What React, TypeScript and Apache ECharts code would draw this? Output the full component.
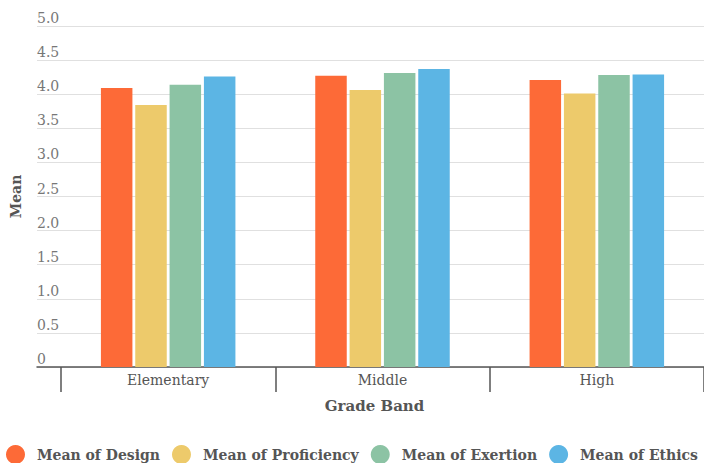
import React, { useEffect, useRef } from "react";
import * as echarts from "echarts";

const gradeBands = ["Elementary", "Middle", "High"];
const seriesNames = ["Mean of Design", "Mean of Proficiency", "Mean of Exertion", "Mean of Ethics"];
const designMeans = [4.09, 4.27, 4.21];
const proficiencyMeans = [3.84, 4.06, 4.01];
const exertionMeans = [4.14, 4.31, 4.28];
const ethicsMeans = [4.26, 4.37, 4.29];
const seriesColors = ["#fd6a37", "#edca6b", "#8cc3a4", "#5cb5e4"];

const FONT = "'DejaVu Serif', Georgia, serif";

export default function App() {
  const ref = useRef<HTMLDivElement>(null);

  useEffect(() => {
    if (!ref.current) return;
    const chart = echarts.init(ref.current, undefined, { renderer: "svg" });
    const values = [designMeans, proficiencyMeans, exertionMeans, ethicsMeans];

    chart.setOption({
      animation: false,
      backgroundColor: "#ffffff",
      textStyle: { fontFamily: FONT },
      grid: [
        { left: 37, top: 26, right: 0, height: 341 },
        { left: 61, top: 26, width: 651, height: 341 },
      ],
      xAxis: [
        {
          gridIndex: 0,
          type: "value",
          min: 0,
          max: 1,
          axisLine: { show: true, onZero: false, lineStyle: { color: "#555", width: 1.5 } },
          axisTick: { show: false },
          axisLabel: { show: false },
          splitLine: { show: false },
          name: "Grade Band",
          nameLocation: "middle",
          nameGap: 31,
          nameTextStyle: { fontFamily: FONT, fontWeight: "bold", fontSize: 15, color: "#555", padding: [0, 0, 0, 8] },
        },
        {
          gridIndex: 1,
          type: "category",
          data: gradeBands,
          axisLine: { show: false },
          axisTick: { show: true, length: 25, lineStyle: { color: "#555", width: 1.5 } },
          axisLabel: { fontFamily: FONT, fontSize: 14, color: "#555", margin: 6 },
        },
      ],
      yAxis: [
        {
          gridIndex: 0,
          type: "value",
          min: 0,
          max: 5,
          interval: 0.5,
          axisLine: { show: false },
          axisTick: { show: false },
          splitLine: { show: true, lineStyle: { color: "#e0e0e0", width: 1 } },
          axisLabel: {
            inside: true,
            margin: 0,
            verticalAlign: "bottom",
            padding: [0, 0, 1, 0],
            fontFamily: FONT,
            fontSize: 14,
            color: "#777",
            formatter: (v: number) => (v === 0 ? "0" : v.toFixed(1)),
          },
          name: "Mean",
          nameLocation: "middle",
          nameGap: 14,
          nameTextStyle: { fontFamily: FONT, fontWeight: "bold", fontSize: 14, color: "#555" },
        },
        {
          gridIndex: 1,
          type: "value",
          min: 0,
          max: 5,
          show: false,
        },
      ],
      legend: {
        left: 6,
        top: 445,
        padding: 0,
        icon: "circle",
        itemWidth: 19,
        itemHeight: 19,
        itemGap: 12,
        textStyle: { fontFamily: FONT, fontWeight: "bold", fontSize: 14, color: "#555", padding: [0, 0, 0, 7] },
        data: seriesNames,
      },
      series: seriesNames.map((name, i) => ({
        name,
        type: "bar",
        xAxisIndex: 1,
        yAxisIndex: 1,
        data: values[i],
        barWidth: 31.5,
        barGap: "9%",
        itemStyle: { color: seriesColors[i] },
      })),
    });

    return () => chart.dispose();
  }, []);

  return (
    <div
      ref={ref}
      style={{ position: "absolute", left: 0, top: 0, width: 704, height: 463 }}
    />
  );
}
